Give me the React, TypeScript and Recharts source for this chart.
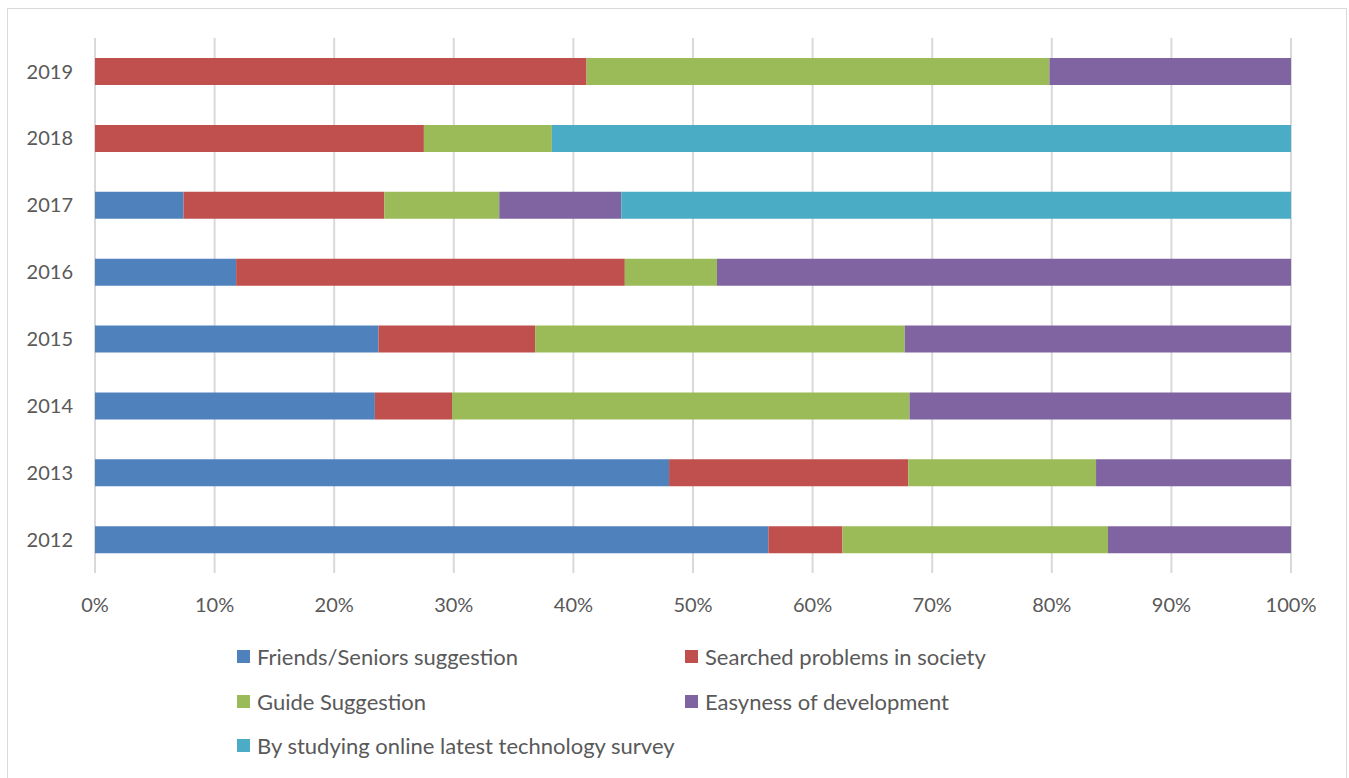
import { Bar, BarChart, CartesianGrid, XAxis, YAxis } from "recharts";

const YEARS = ["2012", "2013", "2014", "2015", "2016", "2017", "2018", "2019"];

// share of each reason per year, in percent
const FRIENDS = [56.3, 48.0, 23.4, 23.7, 11.8, 7.4, 0, 0];
const SEARCHED = [6.2, 20.0, 6.45, 13.1, 32.5, 16.8, 27.5, 41.1];
const GUIDE = [22.2, 15.7, 38.25, 30.9, 7.7, 9.6, 10.7, 38.7];
const EASY = [15.3, 16.3, 31.9, 32.3, 48.0, 10.2, 0, 20.2];
const ONLINE = [0, 0, 0, 0, 0, 56.0, 61.8, 0];

const TICKS = [0, 0.1, 0.2, 0.3, 0.4, 0.5, 0.6, 0.7, 0.8, 0.9, 1];

const SERIES = [
  { key: "friends", name: "Friends/Seniors suggestion", color: "#4F81BD", values: FRIENDS },
  { key: "searched", name: "Searched problems in society", color: "#C0504D", values: SEARCHED },
  { key: "guide", name: "Guide Suggestion", color: "#9BBB59", values: GUIDE },
  { key: "easy", name: "Easyness of development", color: "#8064A2", values: EASY },
  { key: "online", name: "By studying online latest technology survey", color: "#4BACC6", values: ONLINE },
];

const data = YEARS.map((year, i) => {
  const row: Record<string, string | number> = { year };
  SERIES.forEach((s) => {
    row[s.key] = s.values[i];
  });
  return row;
});

const FONT = "Lato, 'Open Sans', sans-serif";
const tickStyle = { fill: "#595959", fontSize: 20, fontFamily: FONT };

// legend slots: two columns, three rows
const LEGEND_POS = [
  { left: 229, top: 634 },
  { left: 677, top: 634 },
  { left: 229, top: 679 },
  { left: 677, top: 679 },
  { left: 229, top: 723 },
];

export default function App() {
  return (
    <div
      style={{
        position: "fixed",
        left: 7,
        top: 8,
        width: 1338,
        height: 790,
        border: "1px solid #d9d9d9",
        background: "#fff",
      }}
    >
      <BarChart
        width={1338}
        height={773}
        data={data}
        layout="vertical"
        stackOffset="expand"
        barSize={27}
        margin={{ top: 29, right: 55, bottom: 169, left: 0 }}
      >
        <CartesianGrid horizontal={false} stroke="#d9d9d9" strokeWidth={2} />
        <XAxis
          type="number"
          domain={[0, 1]}
          ticks={TICKS}
          tickFormatter={(v) => `${Math.round(Number(v) * 100)}%`}
          axisLine={false}
          tickLine={false}
          tickSize={0}
          tickMargin={25}
          height={40}
          tick={tickStyle}
        />
        <YAxis
          type="category"
          dataKey="year"
          reversed
          width={87}
          axisLine={false}
          tickLine={false}
          tickSize={0}
          tickMargin={22}
          tick={tickStyle}
        />
        {SERIES.map((s) => (
          <Bar
            key={s.key}
            dataKey={s.key}
            name={s.name}
            stackId="a"
            fill={s.color}
            isAnimationActive={false}
          />
        ))}
      </BarChart>
      {SERIES.map((s, i) => (
        <div
          key={s.key}
          style={{
            position: "absolute",
            left: LEGEND_POS[i].left,
            top: LEGEND_POS[i].top,
            display: "flex",
            alignItems: "center",
            gap: 7,
            fontFamily: FONT,
            fontSize: 22,
            color: "#595959",
            whiteSpace: "nowrap",
          }}
        >
          <span style={{ width: 13, height: 13, background: s.color, display: "inline-block" }} />
          {s.name}
        </div>
      ))}
    </div>
  );
}
